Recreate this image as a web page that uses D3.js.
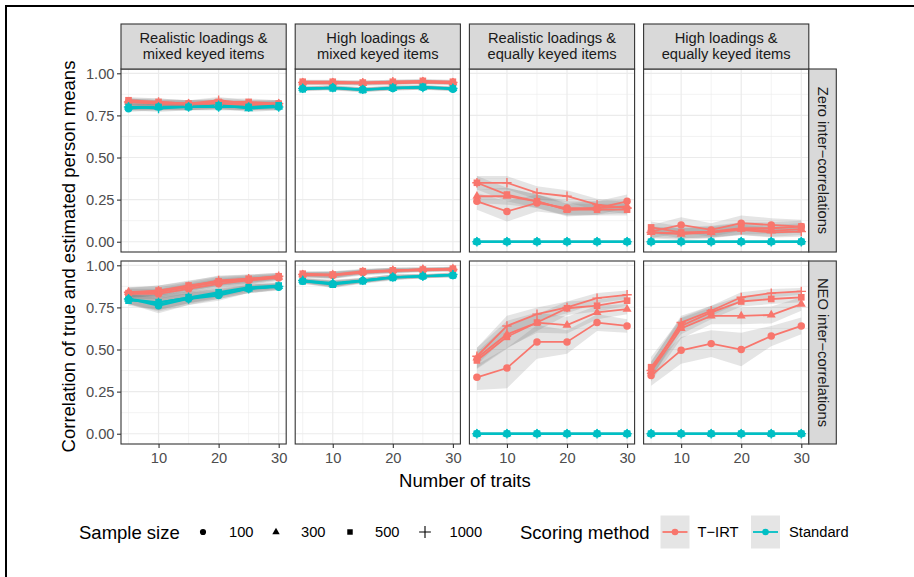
<!DOCTYPE html>
<html>
<head>
<meta charset="utf-8">
<script src="https://cdn.jsdelivr.net/npm/d3@7"></script>
<style>
  body { margin: 0; background: #fff; }
  text { font-family: "Liberation Sans", Arial, sans-serif; }
</style>
</head>
<body>
<svg id="chart" width="914" height="577"></svg>
<script>
const traits = [5, 10, 15, 20, 25, 30]
const sampleSizes = [100, 300, 500, 1000]
const methods = ['T−IRT', 'Standard']
const colLabels = [
  ['Realistic loadings &', 'mixed keyed items'],
  ['High loadings &', 'mixed keyed items'],
  ['Realistic loadings &', 'equally keyed items'],
  ['High loadings &', 'equally keyed items']
]
const rowLabels = ['Zero inter−correlations', 'NEO inter−correlations']
const yTicks = [0, 0.25, 0.5, 0.75, 1]
const xTicks = [10, 20, 30]

// means per sample size (100, 300, 500, 1000), band = half width of ribbon

// zero inter-correlations, realistic loadings, mixed keyed
const zeroRealMixedTirt = [
  [0.83, 0.82, 0.82, 0.82, 0.81, 0.82],
  [0.83, 0.82, 0.82, 0.82, 0.82, 0.82],
  [0.84, 0.83, 0.82, 0.83, 0.83, 0.82],
  [0.83, 0.83, 0.82, 0.84, 0.82, 0.82]
]
const zeroRealMixedStd = [
  [0.79, 0.80, 0.80, 0.80, 0.80, 0.80],
  [0.80, 0.80, 0.80, 0.81, 0.79, 0.80],
  [0.80, 0.80, 0.80, 0.81, 0.80, 0.81],
  [0.80, 0.79, 0.80, 0.80, 0.80, 0.80]
]
const zeroRealMixedBand = [0.02, 0.02, 0.02, 0.02, 0.02, 0.02]

// zero inter-correlations, high loadings, mixed keyed
const zeroHighMixedTirt = [
  [0.94, 0.94, 0.94, 0.94, 0.945, 0.94],
  [0.945, 0.945, 0.94, 0.945, 0.95, 0.945],
  [0.95, 0.95, 0.945, 0.95, 0.955, 0.95],
  [0.945, 0.945, 0.945, 0.95, 0.95, 0.945]
]
const zeroHighMixedStd = [
  [0.91, 0.915, 0.905, 0.91, 0.915, 0.905],
  [0.91, 0.915, 0.90, 0.91, 0.915, 0.91],
  [0.905, 0.91, 0.90, 0.915, 0.92, 0.91],
  [0.91, 0.915, 0.905, 0.915, 0.915, 0.91]
]
const zeroHighMixedBand = [0.012, 0.012, 0.012, 0.012, 0.012, 0.012]

// zero inter-correlations, realistic loadings, equally keyed
const zeroRealEqualTirt = [
  [0.24, 0.18, 0.23, 0.20, 0.20, 0.24],
  [0.27, 0.27, 0.24, 0.19, 0.20, 0.21],
  [0.35, 0.28, 0.24, 0.19, 0.19, 0.19],
  [0.35, 0.35, 0.29, 0.27, 0.22, 0.20]
]
const zeroRealEqualTirtBand = [
  [0.05, 0.06, 0.05, 0.04, 0.04, 0.04],
  [0.04, 0.05, 0.04, 0.04, 0.04, 0.04],
  [0.04, 0.04, 0.04, 0.035, 0.035, 0.035],
  [0.04, 0.04, 0.04, 0.035, 0.035, 0.035]
]

// zero inter-correlations, high loadings, equally keyed
const zeroHighEqualTirt = [
  [0.06, 0.10, 0.07, 0.11, 0.10, 0.09],
  [0.055, 0.045, 0.055, 0.075, 0.065, 0.075],
  [0.085, 0.055, 0.06, 0.08, 0.08, 0.09],
  [0.055, 0.05, 0.055, 0.07, 0.055, 0.06]
]
const zeroHighEqualTirtBand = [
  [0.04, 0.045, 0.04, 0.045, 0.04, 0.04],
  [0.035, 0.035, 0.035, 0.035, 0.035, 0.035],
  [0.035, 0.035, 0.035, 0.035, 0.035, 0.035],
  [0.03, 0.03, 0.03, 0.03, 0.03, 0.03]
]

// NEO inter-correlations, realistic loadings, mixed keyed
const neoRealMixedTirt = [
  [0.83, 0.83, 0.86, 0.89, 0.91, 0.925],
  [0.84, 0.84, 0.87, 0.90, 0.915, 0.93],
  [0.835, 0.85, 0.88, 0.905, 0.92, 0.935],
  [0.84, 0.85, 0.875, 0.91, 0.92, 0.935]
]
const neoRealMixedStd = [
  [0.80, 0.76, 0.80, 0.82, 0.86, 0.87],
  [0.80, 0.78, 0.81, 0.83, 0.86, 0.875],
  [0.79, 0.78, 0.81, 0.84, 0.87, 0.88],
  [0.80, 0.77, 0.80, 0.83, 0.86, 0.875]
]
const neoRealMixedTirtBand = [0.03, 0.03, 0.03, 0.03, 0.025, 0.02]
const neoRealMixedBand = [0.03, 0.045, 0.035, 0.03, 0.025, 0.02]

// NEO inter-correlations, high loadings, mixed keyed
const neoHighMixedTirt = [
  [0.94, 0.94, 0.955, 0.965, 0.97, 0.975],
  [0.945, 0.945, 0.96, 0.97, 0.975, 0.98],
  [0.95, 0.945, 0.965, 0.97, 0.975, 0.98],
  [0.945, 0.94, 0.96, 0.97, 0.975, 0.975]
]
const neoHighMixedStd = [
  [0.905, 0.89, 0.91, 0.93, 0.935, 0.94],
  [0.91, 0.89, 0.91, 0.93, 0.935, 0.945],
  [0.905, 0.885, 0.905, 0.925, 0.935, 0.94],
  [0.91, 0.895, 0.91, 0.93, 0.935, 0.945]
]
const neoHighMixedBand = [0.015, 0.02, 0.015, 0.015, 0.012, 0.012]

// NEO inter-correlations, realistic loadings, equally keyed
const neoRealEqualTirt = [
  [0.335, 0.39, 0.545, 0.545, 0.66, 0.64],
  [0.45, 0.59, 0.66, 0.645, 0.72, 0.74],
  [0.435, 0.575, 0.66, 0.745, 0.76, 0.79],
  [0.46, 0.64, 0.71, 0.75, 0.805, 0.825]
]
const neoRealEqualTirtBand = [
  [0.075, 0.12, 0.10, 0.07, 0.05, 0.04],
  [0.06, 0.08, 0.06, 0.05, 0.04, 0.03],
  [0.05, 0.07, 0.05, 0.04, 0.035, 0.03],
  [0.05, 0.06, 0.04, 0.035, 0.03, 0.025]
]

// NEO inter-correlations, high loadings, equally keyed
const neoHighEqualTirt = [
  [0.345, 0.495, 0.535, 0.50, 0.58, 0.64],
  [0.37, 0.625, 0.70, 0.70, 0.705, 0.77],
  [0.395, 0.64, 0.72, 0.785, 0.80, 0.81],
  [0.375, 0.66, 0.73, 0.81, 0.835, 0.845]
]
const neoHighEqualTirtBand = [
  [0.06, 0.08, 0.08, 0.10, 0.06, 0.05],
  [0.06, 0.06, 0.05, 0.05, 0.05, 0.04],
  [0.06, 0.05, 0.04, 0.03, 0.03, 0.03],
  [0.05, 0.04, 0.03, 0.03, 0.025, 0.02]
]

// standard scores in the equally keyed designs stay at zero
const equalStd = [
  [0, 0, 0, 0, 0, 0],
  [0, 0, 0, 0, 0, 0],
  [0, 0, 0, 0, 0, 0],
  [0, 0, 0, 0, 0, 0]
]
const equalStdBand = [0.006, 0.006, 0.006, 0.006, 0.006, 0.006]

const panels = [
  { row: 0, col: 0, tirt: zeroRealMixedTirt, std: zeroRealMixedStd, tirtBand: zeroRealMixedBand, stdBand: zeroRealMixedBand },
  { row: 0, col: 1, tirt: zeroHighMixedTirt, std: zeroHighMixedStd, tirtBand: zeroHighMixedBand, stdBand: zeroHighMixedBand },
  { row: 0, col: 2, tirt: zeroRealEqualTirt, std: equalStd, tirtBand: zeroRealEqualTirtBand, stdBand: equalStdBand },
  { row: 0, col: 3, tirt: zeroHighEqualTirt, std: equalStd, tirtBand: zeroHighEqualTirtBand, stdBand: equalStdBand },
  { row: 1, col: 0, tirt: neoRealMixedTirt, std: neoRealMixedStd, tirtBand: neoRealMixedTirtBand, stdBand: neoRealMixedBand },
  { row: 1, col: 1, tirt: neoHighMixedTirt, std: neoHighMixedStd, tirtBand: neoHighMixedBand, stdBand: neoHighMixedBand },
  { row: 1, col: 2, tirt: neoRealEqualTirt, std: equalStd, tirtBand: neoRealEqualTirtBand, stdBand: equalStdBand },
  { row: 1, col: 3, tirt: neoHighEqualTirt, std: equalStd, tirtBand: neoHighEqualTirtBand, stdBand: equalStdBand }
]

const colors = { 'T−IRT': '#F8766D', 'Standard': '#00BFC4' }

const panelLeft = 121
const panelTop = 69
const panelW = 165.2
const panelH = 183
const gap = 9
const stripH = 45
const stripW = 27.5
const gridCol = '#EBEBEB'
const dark = '#333333'

const x = d3.scaleLinear().domain([3.75, 31.25]).range([0, panelW])
const y = d3.scaleLinear().domain([-0.061, 1.0255]).range([panelH, 0])

const colX = (c) => panelLeft + c * (panelW + gap)
const rowY = (r) => panelTop + r * (panelH + gap)

const svg = d3.select('#chart')

// outer frame
svg.append('rect')
  .attr('x', 6).attr('y', 6)
  .attr('width', 1000).attr('height', 1000)
  .attr('fill', 'none').attr('stroke', '#000').attr('stroke-width', 2)

function shapePath (i, size) {
  if (i === 3) {
    const h = size * 0.62
    return `M${-h},0H${h}M0,${-h}V${h}`
  }
  const types = [d3.symbolCircle, d3.symbolTriangle, d3.symbolSquare]
  const areas = [size * size * 0.78, size * size * 0.62, size * size * 0.78]
  return d3.symbol().type(types[i]).size(areas[i])()
}

function drawShape (sel, i, size, color, plusWidth) {
  const p = sel.append('path').attr('d', shapePath(i, size))
  if (i === 3) {
    p.attr('fill', 'none').attr('stroke', color).attr('stroke-width', plusWidth || 1.4)
  } else {
    p.attr('fill', color)
  }
  return p
}

const area = d3.area()
  .x((d) => x(d.t))
  .y0((d) => y(d.v - d.b))
  .y1((d) => y(d.v + d.b))

const line = d3.line()
  .x((d) => x(d.t))
  .y((d) => y(d.v))

function bandFor (band, s) {
  return Array.isArray(band[0]) ? band[s] : band
}

panels.forEach((p) => {
  const g = svg.append('g')
    .attr('transform', `translate(${colX(p.col)},${rowY(p.row)})`)

  g.append('rect').attr('width', panelW).attr('height', panelH).attr('fill', '#fff')

  // minor grid
  const minorX = [5, 15, 25]
  const minorY = [0.125, 0.375, 0.625, 0.875]
  g.selectAll('.mx').data(minorX).enter().append('line')
    .attr('x1', (d) => x(d)).attr('x2', (d) => x(d))
    .attr('y1', 0).attr('y2', panelH)
    .attr('stroke', gridCol).attr('stroke-width', 0.6)
  g.selectAll('.my').data(minorY).enter().append('line')
    .attr('y1', (d) => y(d)).attr('y2', (d) => y(d))
    .attr('x1', 0).attr('x2', panelW)
    .attr('stroke', gridCol).attr('stroke-width', 0.6)

  // major grid
  g.selectAll('.gx').data(xTicks).enter().append('line')
    .attr('x1', (d) => x(d)).attr('x2', (d) => x(d))
    .attr('y1', 0).attr('y2', panelH)
    .attr('stroke', gridCol).attr('stroke-width', 1.2)
  g.selectAll('.gy').data(yTicks).enter().append('line')
    .attr('y1', (d) => y(d)).attr('y2', (d) => y(d))
    .attr('x1', 0).attr('x2', panelW)
    .attr('stroke', gridCol).attr('stroke-width', 1.2)

  const series = []
  methods.forEach((m) => {
    const vals = m === 'T−IRT' ? p.tirt : p.std
    const band = m === 'T−IRT' ? p.tirtBand : p.stdBand
    sampleSizes.forEach((n, s) => {
      const b = bandFor(band, s)
      series.push({
        method: m,
        shape: s,
        pts: traits.map((t, k) => ({ t, v: vals[s][k], b: b[k] }))
      })
    })
  })

  // ribbons
  g.selectAll('.ribbon').data(series).enter().append('path')
    .attr('d', (d) => area(d.pts))
    .attr('fill', '#7F7F7F').attr('fill-opacity', 0.2)

  // lines
  g.selectAll('.line').data(series).enter().append('path')
    .attr('d', (d) => line(d.pts))
    .attr('fill', 'none')
    .attr('stroke', (d) => colors[d.method])
    .attr('stroke-width', 1.8)

  // points
  series.forEach((sr) => {
    sr.pts.forEach((pt) => {
      const pg = g.append('g').attr('transform', `translate(${x(pt.t)},${y(pt.v)})`)
      drawShape(pg, sr.shape, 7.5, colors[sr.method])
    })
  })

  g.append('rect').attr('width', panelW).attr('height', panelH)
    .attr('fill', 'none').attr('stroke', dark).attr('stroke-width', 1.1)

  // axes
  if (p.col === 0) {
    const ax = g.append('g').call(
      d3.axisLeft(y).tickValues(yTicks).tickFormat(d3.format('.2f')).tickSize(4).tickPadding(2.5)
    )
    ax.select('.domain').remove()
    ax.selectAll('line').attr('stroke', dark).attr('stroke-width', 1.1)
    ax.selectAll('text').attr('font-size', 14.7).attr('fill', '#4D4D4D')
      .attr('font-family', '"Liberation Sans", Arial, sans-serif')
  }
  if (p.row === 1) {
    const ax = g.append('g').attr('transform', `translate(0,${panelH})`).call(
      d3.axisBottom(x).tickValues(xTicks).tickSize(4).tickPadding(4.5)
    )
    ax.select('.domain').remove()
    ax.selectAll('line').attr('stroke', dark).attr('stroke-width', 1.1)
    ax.selectAll('text').attr('font-size', 14.7).attr('fill', '#4D4D4D')
      .attr('font-family', '"Liberation Sans", Arial, sans-serif')
  }
})

// top strips
colLabels.forEach((lab, c) => {
  const sg = svg.append('g').attr('transform', `translate(${colX(c)},${panelTop - stripH})`)
  sg.append('rect').attr('width', panelW).attr('height', stripH)
    .attr('fill', '#D9D9D9').attr('stroke', dark).attr('stroke-width', 1.1)
  sg.append('text')
    .attr('x', panelW / 2).attr('y', stripH / 2)
    .attr('text-anchor', 'middle')
    .attr('font-size', 14.7).attr('fill', '#1A1A1A')
    .selectAll('tspan').data(lab).enter().append('tspan')
    .attr('x', panelW / 2)
    .attr('dy', (d, i) => i === 0 ? '-0.22em' : '1.08em')
    .text((d) => d)
})

// right strips
rowLabels.forEach((lab, r) => {
  const sx = panelLeft + 4 * panelW + 3 * gap
  const sg = svg.append('g').attr('transform', `translate(${sx},${rowY(r)})`)
  sg.append('rect').attr('width', stripW).attr('height', panelH)
    .attr('fill', '#D9D9D9').attr('stroke', dark).attr('stroke-width', 1.1)
  sg.append('text')
    .attr('transform', `translate(${stripW / 2},${panelH / 2}) rotate(90)`)
    .attr('text-anchor', 'middle').attr('dominant-baseline', 'central')
    .attr('font-size', 14.7).attr('fill', '#1A1A1A')
    .text(lab)
})

// axis titles
svg.append('text')
  .attr('transform', `translate(68,${(panelTop + rowY(1) + panelH) / 2}) rotate(-90)`)
  .attr('text-anchor', 'middle').attr('dominant-baseline', 'central')
  .attr('font-size', 18.5).attr('fill', '#000')
  .text('Correlation of true and estimated person means')

svg.append('text')
  .attr('x', panelLeft + (4 * panelW + 3 * gap) / 2).attr('y', 480)
  .attr('text-anchor', 'middle').attr('dominant-baseline', 'central')
  .attr('font-size', 18.5).attr('fill', '#000')
  .text('Number of traits')

// legend
const ly = 532
const leg = svg.append('g')
leg.append('text').attr('x', 79).attr('y', ly).attr('dominant-baseline', 'central')
  .attr('font-size', 18.5).text('Sample size')

const shapeKeyX = [203, 276, 350, 425]
const shapeLabX = [229, 301, 375, 449.5]
sampleSizes.forEach((n, i) => {
  const kg = leg.append('g').attr('transform', `translate(${shapeKeyX[i]},${ly})`)
  drawShape(kg, i, i === 3 ? 9.5 : 6.2, '#000', 1.1)
  leg.append('text').attr('x', shapeLabX[i]).attr('y', ly).attr('dominant-baseline', 'central')
    .attr('font-size', 14.7).text(n)
})

leg.append('text').attr('x', 520).attr('y', ly).attr('dominant-baseline', 'central')
  .attr('font-size', 18.5).text('Scoring method')

const methodKeyX = [660.5, 751]
const methodLabX = [697.5, 789]
const keyW = 29
const keyH = 33
methods.forEach((m, i) => {
  const kg = leg.append('g').attr('transform', `translate(${methodKeyX[i]},${ly - keyH / 2})`)
  kg.append('rect').attr('width', keyW).attr('height', keyH)
    .attr('fill', '#7F7F7F').attr('fill-opacity', 0.2)
  kg.append('line').attr('x1', 2).attr('x2', keyW - 2)
    .attr('y1', keyH / 2).attr('y2', keyH / 2)
    .attr('stroke', colors[m]).attr('stroke-width', 1.8)
  kg.append('circle').attr('cx', keyW / 2).attr('cy', keyH / 2).attr('r', 3.3)
    .attr('fill', colors[m])
  leg.append('text').attr('x', methodLabX[i]).attr('y', ly).attr('dominant-baseline', 'central')
    .attr('font-size', 14.7).text(m)
})
</script>
</body>
</html>
